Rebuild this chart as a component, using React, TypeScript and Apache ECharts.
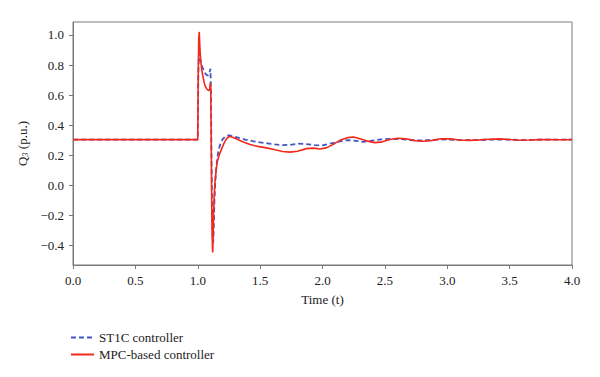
import React, { useEffect, useRef } from "react";
import * as echarts from "echarts";

const mpcTime = [
  0, 1.0, 1.004, 1.008, 1.012, 1.018, 1.024, 1.032, 1.04, 1.05,
  1.06, 1.07, 1.08, 1.09, 1.096, 1.1, 1.104, 1.108, 1.113, 1.118,
  1.12, 1.123, 1.127, 1.133, 1.14, 1.15, 1.16, 1.175, 1.19, 1.21,
  1.23, 1.25, 1.28, 1.32, 1.36, 1.42, 1.48, 1.55, 1.62, 1.68,
  1.74, 1.8, 1.87, 1.93, 1.98, 2.03, 2.08, 2.14, 2.2, 2.25,
  2.3, 2.36, 2.42, 2.48, 2.54, 2.6, 2.67, 2.74, 2.81, 2.88,
  2.95, 3.02, 3.1, 3.18, 3.26, 3.34, 3.42, 3.5, 3.58, 3.66,
  3.74, 3.82, 3.9, 4.0,
];
const mpcValues = [
  0.305, 0.305, 0.75, 0.98, 1.02, 0.9, 0.83, 0.77, 0.73, 0.69,
  0.66, 0.645, 0.635, 0.63, 0.64, 0.68, 0.66, 0.3, -0.2, -0.42,
  -0.445, -0.35, -0.18, -0.05, 0.04, 0.12, 0.17, 0.21, 0.24, 0.28,
  0.31, 0.325, 0.32, 0.305, 0.29, 0.272, 0.26, 0.25, 0.237, 0.226,
  0.222, 0.228, 0.245, 0.248, 0.243, 0.25, 0.27, 0.3, 0.318, 0.322,
  0.31, 0.295, 0.285, 0.29, 0.305, 0.314, 0.31, 0.298, 0.294, 0.3,
  0.31, 0.31, 0.302, 0.3, 0.303, 0.307, 0.31, 0.306, 0.301, 0.302,
  0.305, 0.306, 0.304, 0.305,
];

const st1cTime = [
  0, 1.0, 1.004, 1.008, 1.014, 1.02, 1.03, 1.04, 1.05, 1.06,
  1.07, 1.08, 1.09, 1.097, 1.102, 1.106, 1.11, 1.115, 1.12, 1.124,
  1.128, 1.133, 1.14, 1.15, 1.16, 1.17, 1.185, 1.2, 1.22, 1.24,
  1.26, 1.29, 1.33, 1.38, 1.44, 1.5, 1.56, 1.62, 1.68, 1.74,
  1.8, 1.87, 1.94, 2.0, 2.06, 2.13, 2.2, 2.27, 2.33, 2.4,
  2.47, 2.55, 2.63, 2.7, 2.78, 2.86, 2.94, 3.02, 3.12, 3.22,
  3.32, 3.42, 3.52, 3.62, 3.72, 3.82, 3.92, 4.0,
];
const st1cValues = [
  0.305, 0.305, 0.7, 0.86, 0.88, 0.84, 0.8, 0.78, 0.76, 0.745,
  0.735, 0.73, 0.74, 0.76, 0.775, 0.6, 0.2, -0.2, -0.36, -0.38,
  -0.3, -0.12, 0.02, 0.13, 0.2, 0.245, 0.285, 0.308, 0.325, 0.332,
  0.332, 0.326, 0.316, 0.305, 0.295, 0.286, 0.28, 0.273, 0.268, 0.27,
  0.278, 0.275, 0.268, 0.266, 0.278, 0.292, 0.301, 0.297, 0.29, 0.298,
  0.306, 0.31, 0.308, 0.302, 0.299, 0.302, 0.306, 0.305, 0.302, 0.301,
  0.304, 0.306, 0.304, 0.302, 0.304, 0.305, 0.305, 0.305,
];

const yTicks = [-0.4, -0.2, 0.0, 0.2, 0.4, 0.6, 0.8, 1.0];

const FONT = "'Liberation Serif', 'DejaVu Serif', serif";
const AXIS = "#7a7a7a";
const TEXT = "#222";
const FS = 13;

export default function App() {
  const ref = useRef<HTMLDivElement>(null);
  useEffect(() => {
    if (!ref.current) return;
    const chart = echarts.init(ref.current, null, { renderer: "svg" });
    const pair = (t: number[], v: number[]) => t.map((x, i) => [x, v[i]]);
    chart.setOption({
      animation: false,
      backgroundColor: "#fff",
      textStyle: { fontFamily: FONT },
      grid: {
        left: 73,
        right: 28,
        top: 22,
        bottom: 112,
        show: true,
        borderColor: AXIS,
        borderWidth: 1,
        backgroundColor: "transparent",
      },
      legend: {
        orient: "vertical",
        left: 65,
        top: 326,
        itemWidth: 23,
        itemHeight: 14,
        itemGap: 4,
        itemStyle: { opacity: 0 },
        textStyle: { fontFamily: FONT, fontSize: FS, color: TEXT },
        data: ["ST1C controller", "MPC-based controller"],
      },
      xAxis: {
        type: "value",
        min: 0,
        max: 4,
        interval: 0.5,
        name: "Time (t)",
        nameLocation: "middle",
        nameGap: 28,
        nameTextStyle: { fontFamily: FONT, fontSize: FS, color: TEXT },
        axisLine: { show: true, onZero: false, lineStyle: { color: AXIS, width: 1 } },
        axisTick: { show: true, length: 4, lineStyle: { color: AXIS } },
        axisLabel: {
          margin: 9,
          fontFamily: FONT,
          fontSize: FS,
          color: TEXT,
          formatter: (v: number) => v.toFixed(1),
        },
        splitLine: { show: false },
      },
      yAxis: {
        type: "value",
        min: -0.528,
        max: 1.086,
        name: "{q|Q}{s|3} (p.u.)",
        nameLocation: "middle",
        nameGap: 43,
        nameTextStyle: {
          fontFamily: FONT,
          fontSize: FS,
          color: TEXT,
          rich: {
            q: { fontFamily: FONT, fontSize: FS, color: TEXT },
            s: {
              fontFamily: FONT,
              fontSize: 8.5,
              fontStyle: "italic",
              color: TEXT,
              padding: [6, 0, 0, 0],
            },
          },
        },
        axisLine: { show: true, onZero: false, lineStyle: { color: AXIS, width: 1 } },
        axisTick: {
          show: true,
          length: 4,
          lineStyle: { color: AXIS },
          customValues: yTicks,
        },
        axisLabel: {
          margin: 9,
          fontFamily: FONT,
          fontSize: FS,
          color: TEXT,
          customValues: yTicks,
          formatter: (v: number) =>
            (v < 0 ? "\u2212" : "") + Math.abs(v).toFixed(1),
        },
        splitLine: { show: false },
      },
      series: [
        {
          name: "ST1C controller",
          type: "line",
          data: pair(st1cTime, st1cValues),
          symbol: "none",
          lineStyle: { color: "#4354c4", width: 1.8, type: [5, 3] },
          itemStyle: { color: "#4354c4" },
        },
        {
          name: "MPC-based controller",
          type: "line",
          data: pair(mpcTime, mpcValues),
          symbol: "none",
          lineStyle: { color: "#f3291c", width: 1.6 },
          itemStyle: { color: "#f3291c" },
        },
      ],
    });
    return () => chart.dispose();
  }, []);
  return (
    <div
      ref={ref}
      style={{ position: "fixed", left: 0, top: 0, width: 600, height: 377 }}
    />
  );
}
